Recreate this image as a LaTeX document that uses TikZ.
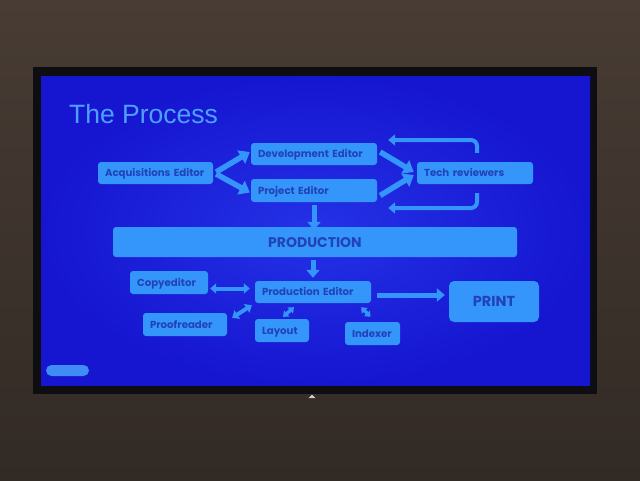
\documentclass[tikz,border=0pt]{standalone}
\usepackage{fontspec}
\setmainfont{Liberation Sans}
\newfontfamily\boxfont{Poppins}
\usetikzlibrary{arrows.meta,calc}
\definecolor{walltop}{RGB}{72,60,52}
\definecolor{wallbot}{RGB}{50,42,37}
\definecolor{bezel}{RGB}{14,13,18}
\definecolor{scrin}{RGB}{36,50,230}
\definecolor{scrout}{RGB}{22,22,208}
\definecolor{boxc}{RGB}{52,150,250}
\definecolor{boxtxt}{RGB}{34,66,185}
\definecolor{titlec}{RGB}{78,160,255}
\definecolor{pillc}{RGB}{64,140,245}
\begin{document}
\begin{tikzpicture}[x=1pt,y=-1pt,
  box/.style={fill=boxc, rounded corners=3pt, text=boxtxt, inner xsep=7pt, inner ysep=0pt,
    text height=7pt, text depth=0pt,
    font=\boxfont\bfseries\fontsize{10.2}{11}\selectfont, align=left},
  cbox/.style={box, align=center, text height=10pt},
  bigar/.style={draw=boxc, line width=5.5pt, -{Triangle[width=15pt,length=10pt]}},
  downar/.style={draw=boxc, line width=5pt, -{Triangle[width=13pt,length=8pt]}},
  loopar/.style={draw=boxc, line width=4pt, rounded corners=6pt, -{Triangle[width=11pt,length=7pt]}},
  dblar/.style={draw=boxc, line width=4pt, {Triangle[width=10pt,length=6pt]}-{Triangle[width=10pt,length=6pt]}},
  smallar/.style={draw=boxc, line width=3.5pt, {Triangle[width=8pt,length=5pt]}-{Triangle[width=8pt,length=5pt]}}
]
\useasboundingbox (0,0) rectangle (640,480);
% wall
\shade[top color=walltop, bottom color=wallbot] (0,0) rectangle (640,480);
% TV bezel and screen
\fill[bezel] (33,67) rectangle (597,394);
\shade[inner color=scrin, outer color=scrout] (41,76) rectangle (590,385);
\fill[black!20!white] (308.5,398) -- (312,394.5) -- (315.5,398) -- cycle;
% title
\node[anchor=base west, inner sep=0pt, text=titlec, font=\fontsize{26.5}{30}\selectfont] (title) at (69,123) {The Process};
% boxes
\node[box, text width=101pt, minimum height=22pt] (acq) at (155.5,173) {Acquisitions Editor};
\node[box, text width=112pt, minimum height=22pt] (dev) at (314,154) {Development Editor};
\node[box, text width=112pt, minimum height=23pt] (proj) at (314,190.5) {Project Editor};
\node[box, text width=102pt, minimum height=22pt] (tech) at (475,173) {Tech reviewers};
\node[cbox, text width=390pt, minimum height=30pt, font=\boxfont\bfseries\fontsize{14}{15}\selectfont] (prod) at (315,242) {PRODUCTION};
\node[box, text width=64pt, minimum height=23pt] (copy) at (169,282.5) {Copyeditor};
\node[box, text width=102pt, minimum height=22pt] (pe) at (313,292) {Production Editor};
\node[cbox, text width=76pt, minimum height=41pt, rounded corners=5pt, font=\boxfont\bfseries\fontsize{14.5}{16}\selectfont] (print) at (494,301.5) {PRINT};
\node[box, text width=70pt, minimum height=23pt] (proof) at (185,324.5) {Proofreader};
\node[box, text width=40pt, minimum height=23pt] (layout) at (282,330.5) {Layout};
\node[box, text width=41pt, minimum height=23pt] (indexer) at (372.5,333.5) {Indexer};
% pill (slide controls)
\node[fill=pillc, rounded corners=5.5pt, minimum width=43pt, minimum height=11pt, inner sep=0pt] (pill) at (67.5,370.5) {};
% connectors
\draw[bigar] ([shift={(3pt,1pt)}]acq.east) -- ([shift={(-1pt,2pt)}]dev.west);
\draw[bigar] ([shift={(3pt,-1pt)}]acq.east) -- ([shift={(-1pt,-2pt)}]proj.west);
\draw[bigar] ([shift={(3pt,2pt)}]dev.east) -- ([shift={(-3pt,1pt)}]tech.west);
\draw[bigar] ([shift={(3pt,-5pt)}]proj.east) -- ([shift={(-3pt,-2pt)}]tech.west);
\draw[loopar] ([shift={(2pt,9pt)}]tech.north) |- ([shift={(11pt,14pt)}]dev.east);
\draw[loopar] ([shift={(2pt,-9pt)}]tech.south) |- ([shift={(11pt,-17.5pt)}]proj.east);
\draw[downar] ([yshift=-3pt]proj.south) -- ([yshift=-3pt]proj.south |- prod.north);
\draw[downar] ([shift={(-2pt,-3pt)}]prod.south) -- ([shift={(-2pt,3pt)}]prod.south |- pe.north);
\draw[dblar] ([shift={(2pt,-6pt)}]copy.east) -- ([shift={(-5pt,-6pt)}]copy.east -| pe.west);
\draw[downar] ([shift={(6pt,-3pt)}]pe.east) -- ([shift={(-4pt,-3pt)}]pe.east -| print.west);
\draw[dblar] ([shift={(5pt,-5pt)}]proof.north east) -- ([shift={(-3pt,-2pt)}]pe.south west);
\draw[smallar] ([shift={(1pt,2pt)}]layout.north) -- ([shift={(-19pt,-4pt)}]pe.south);
\draw[smallar] ([shift={(-10pt,-4pt)}]pe.south east) -- ([shift={(-2pt,5pt)}]indexer.north);
\end{tikzpicture}
\end{document}
